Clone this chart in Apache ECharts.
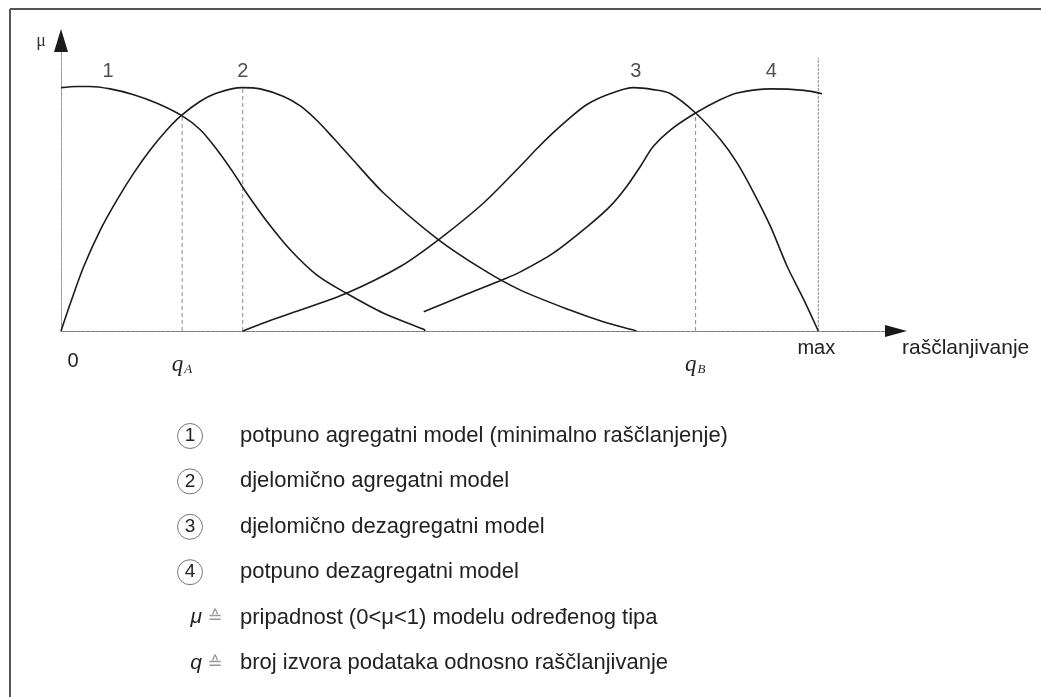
<!DOCTYPE html>
<html>
<head>
<meta charset="utf-8">
<script src="https://cdn.jsdelivr.net/npm/echarts@6/dist/echarts.min.js"></script>
<style>
  html, body { margin: 0; padding: 0; background: #fff; }
  #main { width: 1041px; height: 697px; }
</style>
</head>
<body>
<div id="main"></div>
<script>
// membership curves, x = rasclanjivanje (0..100 = max), y = mu
var curve1 = [[0, 1.0], [2.1, 1.005], [3.8, 1.005], [6.5, 0.995], [9.6, 0.971], [12.6, 0.937], [15.9, 0.886], [18.4, 0.827], [20.6, 0.745], [22.8, 0.649], [24.5, 0.567], [27.2, 0.45], [30.3, 0.333], [33.8, 0.23], [37.7, 0.155], [42.6, 0.073], [47.9, 0.007], [48.1, 0]];
var curve2 = [[0, 0], [1.4, 0.128], [3.0, 0.265], [5.2, 0.416], [7.4, 0.539], [9.6, 0.649], [11.8, 0.745], [14.0, 0.827], [15.9, 0.886], [18.4, 0.944], [20.6, 0.978], [23.9, 1.0], [26.3, 0.995], [29.4, 0.964], [31.6, 0.925], [33.8, 0.865], [36.0, 0.792], [38.2, 0.716], [42.6, 0.567], [49.6, 0.381], [55.8, 0.251], [60.6, 0.169], [67.2, 0.086], [71.6, 0.038], [75.6, 0.004], [76.0, 0]];
var curve3 = [[24.0, 0], [27.2, 0.038], [31.6, 0.086], [37.7, 0.155], [44.8, 0.265], [50.1, 0.381], [55.8, 0.526], [60.6, 0.676], [62.8, 0.748], [65.0, 0.815], [67.2, 0.876], [69.5, 0.932], [72.5, 0.975], [75.6, 1.0], [78.2, 0.992], [80.5, 0.975], [83.8, 0.896], [87.1, 0.786], [89.3, 0.69], [91.5, 0.567], [93.7, 0.429], [95.9, 0.265], [98.1, 0.128], [100, 0]];
var curve4 = [[47.9, 0.079], [53.6, 0.152], [58.4, 0.212], [60.6, 0.242], [65.0, 0.32], [69.5, 0.429], [72.5, 0.512], [74.7, 0.594], [76.5, 0.676], [78.2, 0.758], [80.5, 0.827], [83.8, 0.896], [87.1, 0.951], [89.3, 0.978], [93.7, 0.995], [98.1, 0.989], [100.5, 0.975]];

// vertical guide lines [x, top]
var guides = [[16.0, 0.885], [24.0, 1.0], [83.8, 0.897]];
var maxLine = [100, 1.123];

// curve numbers [x, y, text]
var curveNames = [[6.2, 1.066, '1'], [24.0, 1.066, '2'], [75.9, 1.066, '3'], [93.8, 1.066, '4']];

// marks under the x axis
var axisMarks = [
  { x: 0, text: '0' },
  { x: 16.0, text: 'q', sub: 'A' },
  { x: 83.8, text: 'q', sub: 'B' },
  { x: 100, text: 'max' }
];
var xName = 'raščlanjivanje';
var yName = 'μ';

var legendNums = ['1', '2', '3', '4'];
var legendTexts = [
  'potpuno agregatni model (minimalno raščlanjenje)',
  'djelomično agregatni model',
  'djelomično dezagregatni model',
  'potpuno dezagregatni model'
];
var defSymbols = ['μ', 'q'];
var defTexts = [
  'pripadnost (0<μ<1) modelu određenog tipa',
  'broj izvora podataka odnosno raščlanjivanje'
];

var SANS = '"Liberation Sans", Arial, sans-serif';
var SERIF = '"Liberation Serif", "Times New Roman", serif';

var chart = echarts.init(document.getElementById('main'));

var series = [];
[curve1, curve2, curve3, curve4].forEach(function (c, i) {
  series.push({
    name: 'curve' + (i + 1),
    type: 'line',
    data: c,
    smooth: 0.3,
    symbol: 'none',
    lineStyle: { color: '#1c1c1c', width: 1.6 },
    z: 5
  });
});
guides.forEach(function (g) {
  series.push({
    type: 'line',
    data: [[g[0], 0], [g[0], g[1]]],
    symbol: 'none',
    lineStyle: { color: '#8a8a8a', width: 1, type: [4, 3] },
    z: 2
  });
});
series.push({
  type: 'line',
  data: [[maxLine[0], 0], [maxLine[0], maxLine[1]]],
  symbol: 'none',
  lineStyle: { color: '#8a8a8a', width: 1, type: [3, 1] },
  z: 2
});
series.push({
  type: 'scatter',
  symbolSize: 0,
  data: curveNames.map(function (d) { return { value: [d[0], d[1]], name: d[2] }; }),
  label: {
    show: true,
    position: 'inside',
    formatter: '{b}',
    color: '#222',
    fontSize: 20,
    fontFamily: SANS
  },
  silent: true
});

chart.setOption({
  backgroundColor: '#fff',
  animation: false,
  grid: { left: 61, right: 147, top: 39, bottom: 366 },
  xAxis: {
    type: 'value',
    min: 0,
    max: 110,
    axisLine: {
      show: true,
      onZero: true,
      lineStyle: { color: '#7a7a7a', width: 1, type: [4, 1] }
    },
    axisTick: { show: false },
    axisLabel: { show: false },
    splitLine: { show: false }
  },
  yAxis: {
    type: 'value',
    min: 0,
    max: 1.2,
    axisLine: {
      show: true,
      lineStyle: { color: '#9a9a9a', width: 1, type: [4, 1] }
    },
    axisTick: { show: false },
    axisLabel: { show: false },
    splitLine: { show: false }
  },
  series: series
});

// annotations placed through the axes
var el = [];
function px(x, y) { return chart.convertToPixel({ gridIndex: 0 }, [x, y]); }

// frame
el.push({ type: 'line', shape: { x1: 10, y1: 9, x2: 1041, y2: 9 }, style: { stroke: '#555', lineWidth: 2 } });
el.push({ type: 'line', shape: { x1: 10, y1: 9, x2: 10, y2: 697 }, style: { stroke: '#555', lineWidth: 2 } });

// axis arrows
var xEnd = px(110, 0);
var yTop = px(0, 1.2);
el.push({ type: 'polygon', shape: { points: [[xEnd[0] - 9, xEnd[1] - 6], [xEnd[0] + 13, xEnd[1]], [xEnd[0] - 9, xEnd[1] + 6]] }, style: { fill: '#1a1a1a' }, z: 10 });
el.push({ type: 'polygon', shape: { points: [[yTop[0] - 7, yTop[1] + 13], [yTop[0], yTop[1] - 10], [yTop[0] + 7, yTop[1] + 13]] }, style: { fill: '#1a1a1a' }, z: 10 });

el.push({ type: 'text', style: { text: yName, x: yTop[0] - 20, y: yTop[1] + 2, font: '18px ' + SERIF, fill: '#333', textAlign: 'center', textVerticalAlign: 'middle' } });

axisMarks.forEach(function (m) {
  var p = px(m.x, 0);
  if (m.sub) {
    el.push({ type: 'text', style: { text: m.text, x: p[0] + 1, y: p[1] + 34, font: 'italic 23px ' + SERIF, fill: '#222', textAlign: 'right', textVerticalAlign: 'middle' } });
    el.push({ type: 'text', style: { text: m.sub, x: p[0] + 2, y: p[1] + 39, font: 'italic 13px ' + SERIF, fill: '#222', textAlign: 'left', textVerticalAlign: 'middle' } });
  } else if (m.text === 'max') {
    el.push({ type: 'text', style: { text: m.text, x: p[0] - 2, y: p[1] + 17, font: '20px ' + SANS, fill: '#222', textAlign: 'center', textVerticalAlign: 'middle' } });
  } else {
    el.push({ type: 'text', style: { text: m.text, x: p[0] + 12, y: p[1] + 30, font: '20px ' + SANS, fill: '#222', textAlign: 'center', textVerticalAlign: 'middle' } });
  }
});
el.push({ type: 'text', style: { text: xName, x: xEnd[0] + 8, y: xEnd[1] + 17, font: '21px ' + SANS, fill: '#222', textAlign: 'left', textVerticalAlign: 'middle' } });

// legend
var rowY0 = 436, rowGap = 45.4;
var circX = 190, textX = 240;
legendNums.forEach(function (n, i) {
  var y = rowY0 + i * rowGap;
  el.push({ type: 'circle', shape: { cx: circX, cy: y, r: 12.5 }, style: { fill: 'none', stroke: '#777', lineWidth: 1 } });
  el.push({ type: 'text', style: { text: n, x: circX, y: y, font: '19px ' + SANS, fill: '#222', textAlign: 'center', textVerticalAlign: 'middle' } });
  el.push({ type: 'text', style: { text: legendTexts[i], x: textX, y: y, font: '22px ' + SANS, fill: '#222', textAlign: 'left', textVerticalAlign: 'middle' } });
});
defSymbols.forEach(function (s, i) {
  var y = rowY0 + (i + 4) * rowGap;
  el.push({ type: 'text', style: { text: s, x: circX + 12, y: y, font: 'italic 21px ' + SANS, fill: '#222', textAlign: 'right', textVerticalAlign: 'middle' } });
  el.push({ type: 'text', style: { text: '≙', x: circX + 25, y: y + 1, font: '18px "DejaVu Sans", sans-serif', fill: '#999', textAlign: 'center', textVerticalAlign: 'middle' } });
  el.push({ type: 'text', style: { text: defTexts[i], x: textX, y: y, font: '22px ' + SANS, fill: '#222', textAlign: 'left', textVerticalAlign: 'middle' } });
});

chart.setOption({ graphic: { elements: el } });
</script>
</body>
</html>
